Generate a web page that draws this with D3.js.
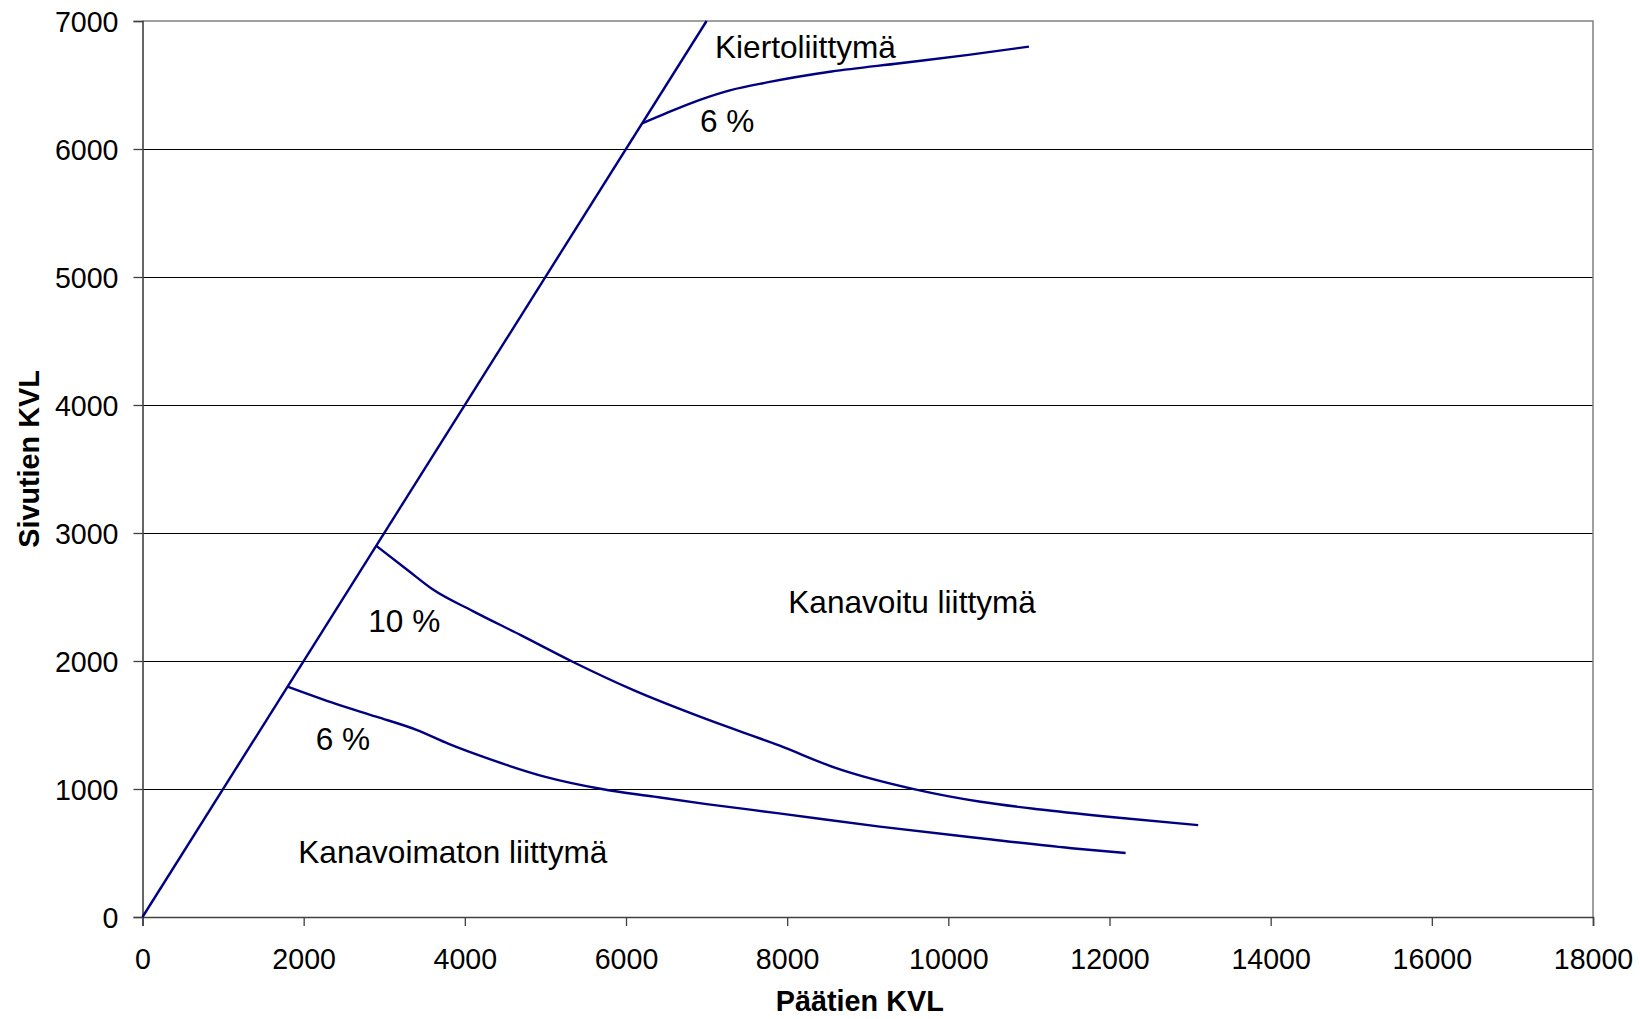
<!DOCTYPE html>
<html>
<head>
<meta charset="utf-8">
<script src="https://cdn.jsdelivr.net/npm/d3@7"></script>
<style>
  html, body { margin: 0; padding: 0; background: #ffffff; }
  svg { display: block; font-family: "Liberation Sans", Arial, sans-serif; }
</style>
</head>
<body>
<svg id="chart" width="1640" height="1019"></svg>
<script>
// ---- data ----
const xTicks = [0, 2000, 4000, 6000, 8000, 10000, 12000, 14000, 16000, 18000];
const yTicks = [0, 1000, 2000, 3000, 4000, 5000, 6000, 7000];
const xTitle = "Päätien KVL";
const yTitle = "Sivutien KVL";

// boundary y = x
const diagonal = [[0, 0], [7000, 7000]];
// roundabout boundary (6 %)
const kierto6 = [[6200, 6200], [6500, 6280], [6900, 6380], [7300, 6460], [7750, 6520],
                 [8550, 6605], [9400, 6670], [10250, 6735], [11000, 6800]];
// channelised boundary (10 %)
const kanava10 = [[2900, 2900], [3300, 2705], [3600, 2560], [4100, 2390], [4700, 2200],
                  [5350, 1990], [6100, 1770], [7000, 1545], [7900, 1340], [8600, 1165],
                  [9600, 995], [10400, 900], [11200, 836], [12050, 779], [13100, 718]];
// channelised boundary (6 %)
const kanava6 = [[1800, 1800], [2400, 1665], [2900, 1565], [3400, 1462], [3800, 1352],
                 [4300, 1235], [5000, 1095], [5700, 1000], [6350, 940], [7000, 882],
                 [7900, 810], [9150, 706], [10400, 615], [11600, 533], [12200, 500]];

const curveSeries = [kierto6, kanava10, kanava6];

const labelTexts = ["Kiertoliittymä", "6 %", "10 %", "6 %", "Kanavoitu liittymä", "Kanavoimaton liittymä"];
const labelX = [7105, 6918, 2802, 2149, 8014, 1933];
const labelY = [6709, 6135, 2229, 1305, 2373, 420];

// ---- layout ----
const W = 1640, H = 1019;
const margin = { left: 142.5, top: 21, right: 47, bottom: 102 };
const iw = W - margin.left - margin.right;
const ih = H - margin.top - margin.bottom;

const svg = d3.select("#chart");
const g = svg.append("g").attr("transform", `translate(${margin.left},${margin.top})`);

const x = d3.scaleLinear().domain([0, 18000]).range([0, iw]);
const y = d3.scaleLinear().domain([0, 7000]).range([ih, 0]);

// gridlines
g.append("g").selectAll("line")
  .data(yTicks.filter(d => d > 0 && d < 7000))
  .join("line")
  .attr("x1", 0).attr("x2", iw)
  .attr("y1", d => Math.round(y(d)) + 0.5).attr("y2", d => Math.round(y(d)) + 0.5)
  .attr("stroke", "#000").attr("stroke-width", 1);

// top & right border (grey)
g.append("path")
  .attr("d", `M0,${y(7000)}H${iw}V${ih}`)
  .attr("fill", "none").attr("stroke", "#808080").attr("stroke-width", 1.5);

// axes
const tickFont = 28.6;
const yAxis = g.append("g")
  .call(d3.axisLeft(y).tickValues(yTicks).tickSize(9).tickPadding(15).tickFormat(d3.format("d")));
const xAxis = g.append("g").attr("transform", `translate(0,${ih})`)
  .call(d3.axisBottom(x).tickValues(xTicks).tickSize(9).tickFormat(d3.format("d")));

[yAxis, xAxis].forEach(a => {
  a.select(".domain").attr("stroke", "#404040").attr("stroke-width", 1.6);
  a.selectAll(".tick line").attr("stroke", "#404040").attr("stroke-width", 1.3);
  a.selectAll("text").attr("fill", "#000").style("font-size", tickFont + "px")
    .style("font-family", '"Liberation Sans", Arial, sans-serif');
});
yAxis.selectAll("text").attr("dy", "0.35em");
xAxis.selectAll("text").attr("y", 52).attr("dy", 0);

// lines
const straight = d3.line().x(d => x(d[0])).y(d => y(d[1]));
const smooth = d3.line().x(d => x(d[0])).y(d => y(d[1])).curve(d3.curveMonotoneX);

g.append("path")
  .datum(diagonal)
  .attr("d", straight)
  .attr("fill", "none").attr("stroke", "#000080").attr("stroke-width", 2.4);

g.append("g").selectAll("path")
  .data(curveSeries)
  .join("path")
  .attr("d", smooth)
  .attr("fill", "none")
  .attr("stroke", "#000080")
  .attr("stroke-width", 2.4)
  .attr("stroke-linejoin", "round");

// annotations
g.append("g").selectAll("text")
  .data(labelTexts)
  .join("text")
  .attr("x", (d, i) => x(labelX[i]))
  .attr("y", (d, i) => y(labelY[i]))
  .style("font-size", "31.6px")
  .attr("fill", "#000")
  .text(d => d);

// axis titles
svg.append("text")
  .attr("x", margin.left + iw / 2 - 8)
  .attr("y", 1011)
  .attr("text-anchor", "middle")
  .style("font-size", "28.8px").style("font-weight", "bold")
  .text(xTitle);

svg.append("text")
  .attr("transform", `translate(39,459) rotate(-90)`)
  .attr("text-anchor", "middle")
  .style("font-size", "28.8px").style("font-weight", "bold")
  .text(yTitle);
</script>
</body>
</html>
